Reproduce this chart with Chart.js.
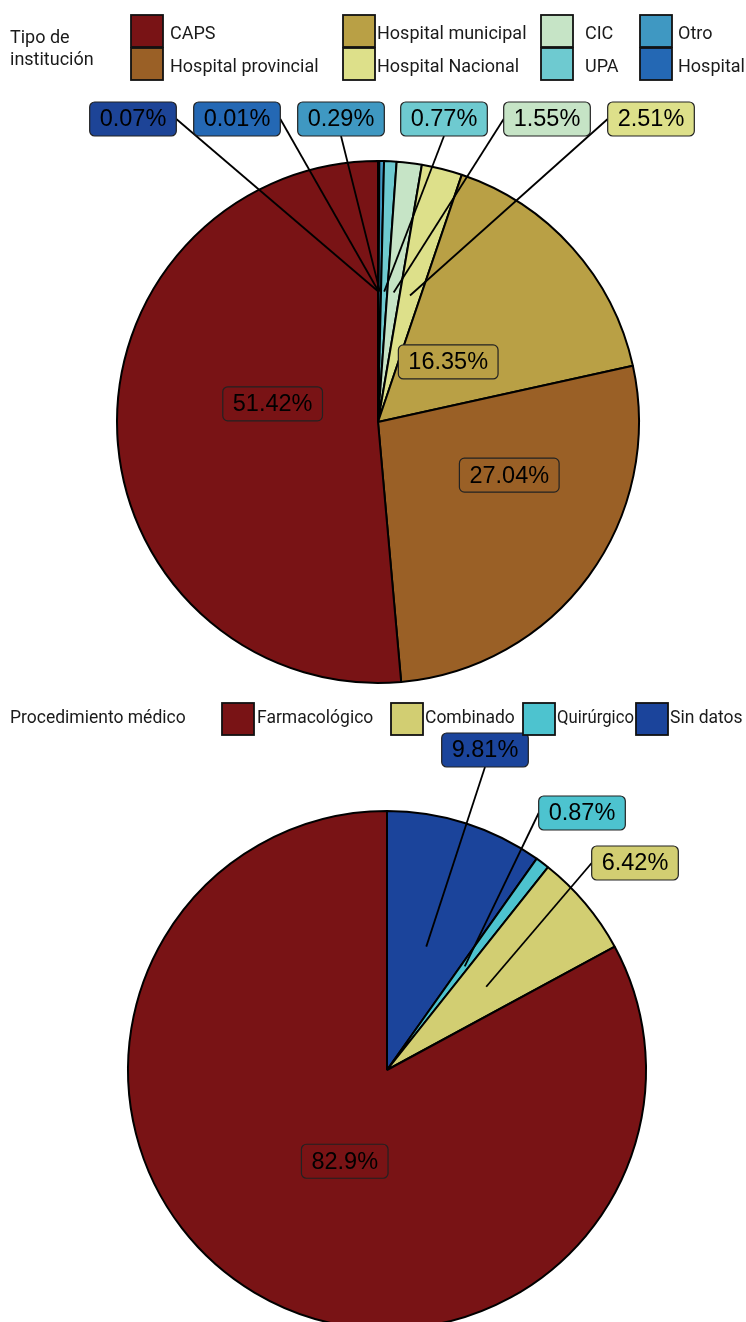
<!DOCTYPE html>
<html lang="es">
<head>
<meta charset="utf-8">
<title>Tipo de institución y procedimiento médico</title>
<script src="https://cdn.jsdelivr.net/npm/chart.js@4.4.1/dist/chart.umd.min.js"></script>
<style>
	html, body { margin: 0; padding: 0; background: #fff; }
	body { width: 746px; height: 1322px; overflow: hidden; }
	canvas { display: block; }
</style>
</head>
<body>
<canvas id="institucionChart" width="746" height="692"></canvas>
<canvas id="procedimientoChart" width="746" height="640"></canvas>
<script>
// Tipo de institución (porcentajes), en sentido horario desde las 12
const institucionLabels = ["Sin datos", "Hospital", "Otro", "UPA", "CIC", "Hospital Nacional", "Hospital municipal", "Hospital provincial", "CAPS"];
const institucionValues = [0.07, 0.01, 0.29, 0.77, 1.55, 2.51, 16.35, 27.04, 51.42];
const institucionColors = ["#1d4497", "#2468b4", "#3f98c2", "#6ecad0", "#c6e4c6", "#dde08a", "#b9a045", "#9a6026", "#791315"];
const institucionLegend = ["CAPS", "Hospital provincial", "Hospital municipal", "Hospital Nacional", "CIC", "UPA", "Otro", "Hospital"];

// Procedimiento médico (porcentajes)
const procedimientoLabels = ["Sin datos", "Quirúrgico", "Combinado", "Farmacológico"];
const procedimientoValues = [9.81, 0.87, 6.42, 82.9];
const procedimientoColors = ["#1b449b", "#4dc3cf", "#d2ce72", "#791315"];
const procedimientoLegend = ["Farmacológico", "Combinado", "Quirúrgico", "Sin datos"];

const LEGEND_FONT = "Roboto, 'DejaVu Sans', sans-serif";
const LABEL_FONT = "'Liberation Sans', Arial, sans-serif";

// Where each percentage box goes: "fixed" = box centre in canvas px (gets a leader line),
// "shift" = offset from the slice anchor (half radius, mid angle)
const institucionPlacement = [
	{ fixed: [133, 119] },
	{ fixed: [237, 119] },
	{ fixed: [341, 119] },
	{ fixed: [444, 119] },
	{ fixed: [547, 119] },
	{ fixed: [651, 119] },
	{ shift: [-27, 27] },
	{ shift: [26, -24] },
	{ shift: [25, -24] },
];
const procedimientoPlacement = [
	{ fixed: [485, 58] },
	{ fixed: [582, 121] },
	{ fixed: [635, 171] },
	{ shift: [24, -20] },
];

// Legend block: title on the left, keys in columns
const legendBlock = {
	id: "legendBlock",
	afterDraw(chart, args, opts) {
		const ctx = chart.ctx;
		const ds = chart.data.datasets[0];
		ctx.save();
		ctx.textBaseline = "middle";
		ctx.textAlign = "left";
		ctx.font = opts.fontSize + "px " + LEGEND_FONT;
		ctx.fillStyle = "#1a1a1a";
		opts.title.forEach((line, i) => {
			ctx.fillText(line, opts.titleX, opts.titleY + i * opts.titleLeading);
		});
		opts.items.forEach((name, i) => {
			const col = Math.floor(i / opts.rows);
			const row = i % opts.rows;
			const kx = opts.keyX[col];
			const ky = opts.keyY + row * opts.rowStep;
			const idx = chart.data.labels.indexOf(name);
			ctx.fillStyle = ds.backgroundColor[idx];
			ctx.fillRect(kx, ky, opts.keySize, opts.keySize);
			ctx.lineWidth = 1.8;
			ctx.strokeStyle = "#111";
			ctx.strokeRect(kx, ky, opts.keySize, opts.keySize);
			ctx.fillStyle = "#1a1a1a";
			ctx.fillText(name, opts.textX[col], ky + opts.keySize / 2 + opts.textShift, opts.textMax[col]);
		});
		ctx.restore();
	},
};

// Percentage labels in rounded boxes, with leader lines for the ones placed outside
const sliceLabels = {
	id: "sliceLabels",
	afterDatasetsDraw(chart, args, opts) {
		const ctx = chart.ctx;
		const meta = chart.getDatasetMeta(0);
		const ds = chart.data.datasets[0];
		const placement = chart.canvas.id === "institucionChart" ? institucionPlacement : procedimientoPlacement;
		ctx.save();
		ctx.font = opts.fontSize + "px " + LABEL_FONT;
		const boxes = meta.data.map((arc, i) => {
			const p = arc.getProps(["x", "y", "startAngle", "endAngle", "outerRadius"], true);
			const mid = (p.startAngle + p.endAngle) / 2;
			const ax = p.x + Math.cos(mid) * p.outerRadius / 2;
			const ay = p.y + Math.sin(mid) * p.outerRadius / 2;
			const text = ds.data[i] + "%";
			const w = ctx.measureText(text).width + opts.padX * 2;
			const h = opts.boxHeight;
			const place = placement[i];
			let cx, cy;
			if (place.fixed) {
				cx = place.fixed[0];
				cy = place.fixed[1];
			} else {
				cx = ax + place.shift[0];
				cy = ay + place.shift[1];
			}
			return { text, ax, ay, cx, cy, w, h, color: ds.backgroundColor[i], line: !!place.fixed };
		});

		// leader lines under the boxes, from the nearest edge midpoint
		ctx.strokeStyle = "#000";
		ctx.lineWidth = 1.8;
		boxes.forEach((b) => {
			if (!b.line) return;
			const mids = [
				[b.cx - b.w / 2, b.cy],
				[b.cx + b.w / 2, b.cy],
				[b.cx, b.cy - b.h / 2],
				[b.cx, b.cy + b.h / 2],
			];
			let best = mids[0];
			let bestD = Infinity;
			mids.forEach((m) => {
				const d = Math.hypot(m[0] - b.ax, m[1] - b.ay);
				if (d < bestD) { bestD = d; best = m; }
			});
			ctx.beginPath();
			ctx.moveTo(best[0], best[1]);
			ctx.lineTo(b.ax, b.ay);
			ctx.stroke();
		});

		ctx.textAlign = "center";
		ctx.textBaseline = "middle";
		boxes.forEach((b) => {
			const x = b.cx - b.w / 2;
			const y = b.cy - b.h / 2;
			ctx.beginPath();
			ctx.roundRect(x, y, b.w, b.h, 5);
			ctx.fillStyle = b.color;
			ctx.fill();
			ctx.lineWidth = 1.2;
			ctx.strokeStyle = "#222";
			ctx.stroke();
			ctx.fillStyle = "#000";
			ctx.fillText(b.text, b.cx, b.cy + 1);
		});
		ctx.restore();
	},
};

function pieOptions(padding, legendOpts, labelOpts) {
	return {
		responsive: false,
		animation: false,
		layout: { padding },
		plugins: {
			legend: { display: false },
			tooltip: { enabled: false },
			legendBlock: legendOpts,
			sliceLabels: labelOpts,
		},
	};
}

new Chart(document.getElementById("institucionChart"), {
	type: "pie",
	data: {
		labels: institucionLabels,
		datasets: [{
			data: institucionValues,
			backgroundColor: institucionColors,
			borderColor: "#000",
			borderWidth: 2,
		}],
	},
	options: pieOptions(
		{ left: 116, right: 106, top: 160, bottom: 8 },
		{
			title: ["Tipo de", "institución"],
			titleX: 10, titleY: 38, titleLeading: 22,
			items: institucionLegend,
			rows: 2,
			keyX: [131, 343, 541, 640],
			textX: [170, 377, 585, 678],
			textMax: [170, 160, 50, 68],
			keyY: 15, rowStep: 33, keySize: 32, textShift: 3,
			fontSize: 18,
		},
		{ fontSize: 23.5, padX: 10, boxHeight: 34 }
	),
	plugins: [legendBlock, sliceLabels],
});

new Chart(document.getElementById("procedimientoChart"), {
	type: "pie",
	data: {
		labels: procedimientoLabels,
		datasets: [{
			data: procedimientoValues,
			backgroundColor: procedimientoColors,
			borderColor: "#000",
			borderWidth: 2,
		}],
	},
	options: pieOptions(
		{ left: 127, right: 99, top: 118, bottom: 2 },
		{
			title: ["Procedimiento médico"],
			titleX: 10, titleY: 27, titleLeading: 22,
			items: procedimientoLegend,
			rows: 1,
			keyX: [222, 391, 523, 636],
			textX: [257, 425, 557, 670],
			textMax: [130, 96, 77, 76],
			keyY: 11, rowStep: 33, keySize: 32, textShift: 0,
			fontSize: 17.5,
		},
		{ fontSize: 23.5, padX: 10, boxHeight: 34 }
	),
	plugins: [legendBlock, sliceLabels],
});
</script>
</body>
</html>
